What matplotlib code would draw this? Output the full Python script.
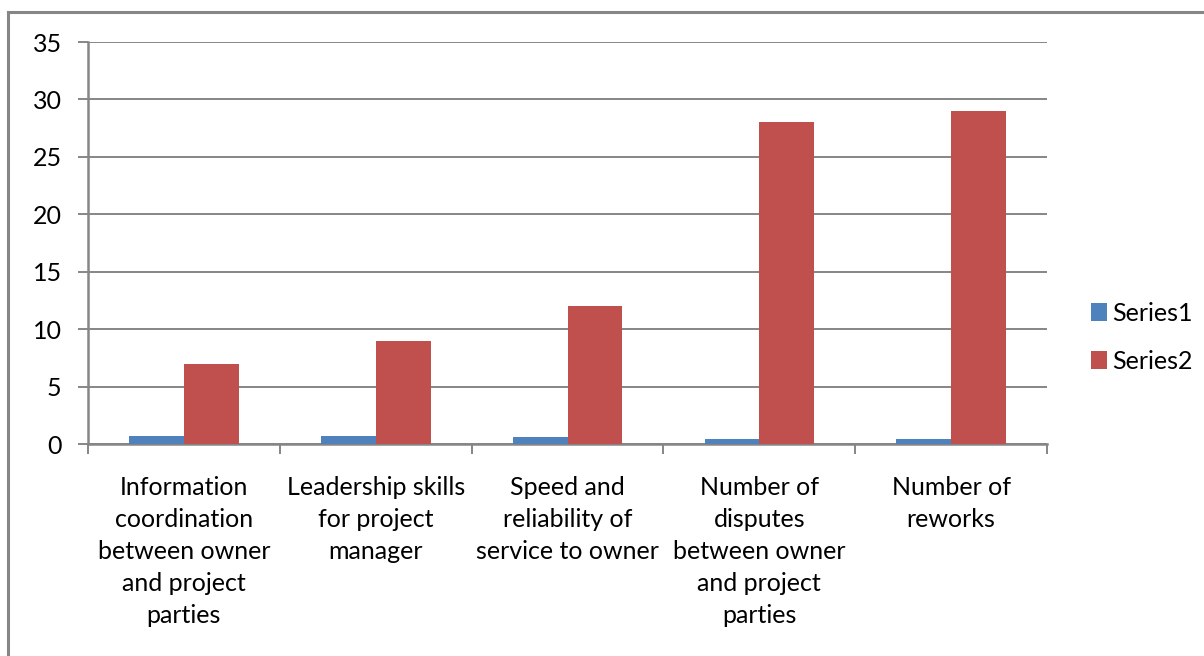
import numpy as np
import matplotlib.pyplot as plt

categories = [
    "Information\ncoordination\nbetween owner\nand project\nparties",
    "Leadership skills\nfor project\nmanager",
    "Speed and\nreliability of\nservice to owner",
    "Number of\ndisputes\nbetween owner\nand project\nparties",
    "Number of\nreworks",
]
series1 = [0.7, 0.7, 0.65, 0.4, 0.4]
series2 = [7, 9, 12, 28, 29]
yticks = [0, 5, 10, 15, 20, 25, 30, 35]

blue = "#4f81bd"
red = "#c0504d"
grey = "#868686"

plt.rcParams['font.family'] = ['Lato', 'DejaVu Sans']

W, H = 1204, 656
fig = plt.figure(figsize=(W / 100, H / 100), dpi=100)

# outer chart border (only left and top edges are in frame)
fig.add_artist(plt.Line2D([8 / W, 8 / W], [0, 1 - 12 / H], color=grey, lw=2.2,
                          transform=fig.transFigure))
fig.add_artist(plt.Line2D([8 / W, 1], [1 - 12 / H, 1 - 12 / H], color=grey, lw=2.2,
                          transform=fig.transFigure))

ax = fig.add_axes([88 / W, (H - 444) / H, (1047 - 88) / W, (444 - 42) / H])

n = len(categories)
x = np.arange(n)
w = 1 / 3.5
ax.bar(x - w / 2, series1, w, color=blue, label="Series1", zorder=3)
ax.bar(x + w / 2, series2, w, color=red, label="Series2", zorder=3)

ax.set_xlim(-0.5, n - 0.5)
ax.set_ylim(0, 35)
ax.set_yticks(yticks)
ax.yaxis.grid(True, color=grey, lw=1.4, zorder=0)
ax.tick_params(axis='y', length=7, width=1.4, color=grey, labelsize=18, pad=12)

ax.set_xticks(np.arange(n + 1) - 0.5)
ax.set_xticklabels([])
ax.tick_params(axis='x', which='major', length=7, width=1.4, color=grey)
ax.set_xticks(x, minor=True)
ax.set_xticklabels(categories, minor=True, fontsize=18, linespacing=1.47)
ax.tick_params(axis='x', which='minor', length=0, pad=23)

for s in ['top', 'right']:
    ax.spines[s].set_visible(False)
for s in ['left', 'bottom']:
    ax.spines[s].set_color(grey)
    ax.spines[s].set_linewidth(1.8)

ax.legend(loc='center left', bbox_to_anchor=(1.022, 0.265), frameon=False,
          fontsize=18, handlelength=0.65, handleheight=0.7, handletextpad=0.2,
          labelspacing=1.0)

fig.savefig("out.png", dpi=100)
